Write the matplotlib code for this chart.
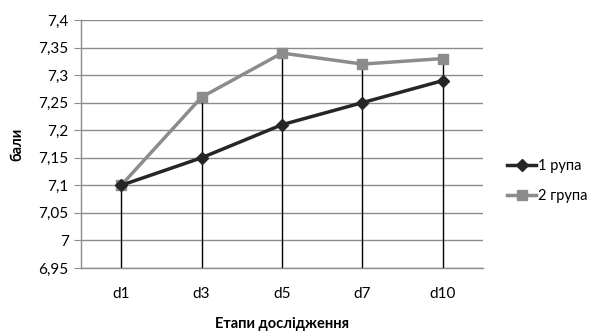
import numpy as np
import matplotlib.pyplot as plt

plt.rcParams['font.family'] = ['Lato', 'DejaVu Sans']

stages = ['d1', 'd3', 'd5', 'd7', 'd10']
group1 = [7.10, 7.15, 7.21, 7.25, 7.29]
group2 = [7.10, 7.26, 7.34, 7.32, 7.33]
y_ticks = [6.95, 7.0, 7.05, 7.1, 7.15, 7.2, 7.25, 7.3, 7.35, 7.4]

fig = plt.figure(figsize=(5.93, 3.32), dpi=100)
ax = fig.add_axes([0.1366, 0.1928, 0.6779, 0.747])

x = np.arange(len(stages))
ymin, ymax = 6.95, 7.4

# drop lines
tops = np.maximum(group1, group2)
ax.vlines(x, ymin, tops, colors='black', linewidth=1, zorder=2)

ax.plot(x, group1, color='#262626', linewidth=2.5, marker='D', markersize=6,
        label='1 рупа', zorder=4)
ax.plot(x, group2, color='#8c8c8c', linewidth=2.5, marker='s', markersize=7.5,
        label='2 група', zorder=3)

ax.set_xlim(-0.5, len(stages) - 0.5)
ax.set_ylim(ymin, ymax)
ax.set_yticks(y_ticks)
ax.set_yticklabels([f'{v:.2f}'.rstrip('0').rstrip('.').replace('.', ',') for v in y_ticks])
ax.set_xticks(x)
ax.set_xticklabels(stages)
ax.yaxis.grid(True, color='#8c8c8c', linewidth=1)
ax.set_axisbelow(True)

for s in ['top', 'right']:
    ax.spines[s].set_visible(False)
for s in ['left', 'bottom']:
    ax.spines[s].set_color('#8c8c8c')
    ax.spines[s].set_linewidth(1)

ax.tick_params(axis='y', length=5, color='#8c8c8c', labelsize=11, pad=4)
ax.tick_params(axis='x', length=0, labelsize=11, pad=14)

ax.set_ylabel('бали', fontsize=10.5, fontweight='bold', labelpad=10)
ax.set_xlabel('Етапи дослідження', fontsize=10.5, fontweight='bold', labelpad=11)

ax.legend(loc='center left', bbox_to_anchor=(1.06, 0.35), frameon=False,
          fontsize=10.5, handlelength=2.0, handletextpad=0.1, labelspacing=1.1,
          borderaxespad=0, borderpad=0)

fig.savefig('out.png', dpi=100)
